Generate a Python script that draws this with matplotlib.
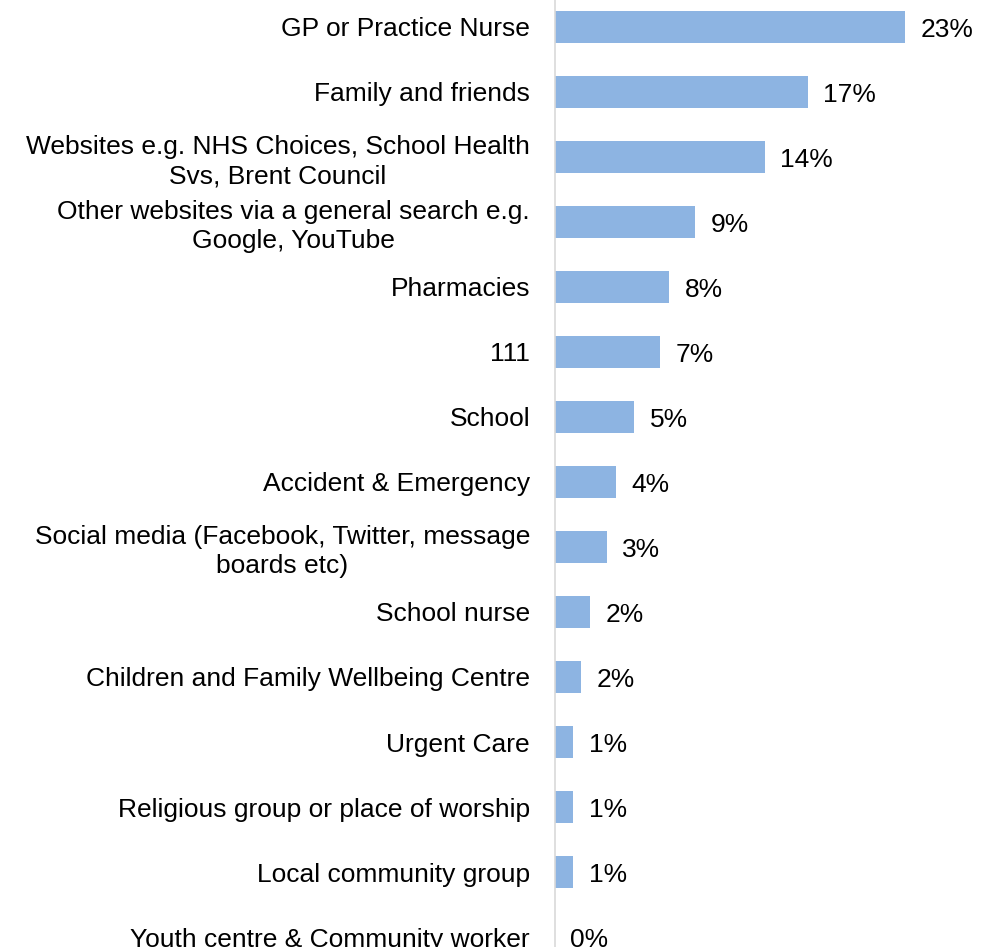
import matplotlib
matplotlib.use("Agg")
import matplotlib.pyplot as plt

# Where people go for health advice (share of responses, %)
sources = [
    "GP or Practice Nurse",
    "Family and friends",
    "Websites e.g. NHS Choices, School Health\nSvs, Brent Council",
    "Other websites via a general search e.g.\nGoogle, YouTube",
    "Pharmacies",
    "111",
    "School",
    "Accident & Emergency",
    "Social media (Facebook, Twitter, message\nboards etc)",
    "School nurse",
    "Children and Family Wellbeing Centre",
    "Urgent Care",
    "Religious group or place of worship",
    "Local community group",
    "Youth centre & Community worker",
]
shares = [23.0, 16.6, 13.8, 9.2, 7.5, 6.9, 5.2, 4.0, 3.4, 2.3, 1.7, 1.2, 1.2, 1.2, 0.0]

plt.rcParams["font.family"] = ["Liberation Sans", "DejaVu Sans"]
FS = 19

fig = plt.figure(figsize=(9.94, 9.47), dpi=100)
ax = fig.add_axes([0.5584, -0.02376, 0.4416, 1.02957])

pos = list(range(len(sources)))
ax.barh(pos, shares, height=0.48, color="#8db4e2")

for y, v in zip(pos, shares):
    ax.annotate(f"{v:.0f}%", (v, y), xytext=(11, -2), textcoords="offset points",
                ha="left", va="center", fontsize=FS, color="black")

ax.set_xlim(0, 28.84)
ax.set_ylim(len(sources) - 0.5, -0.5)
ax.set_yticks(pos)
ax.set_yticklabels(sources, fontsize=FS)
for lbl in ax.get_yticklabels():
    lbl.set_multialignment("center")
    lbl.set_linespacing(1.25)
ax.tick_params(axis="y", length=0, pad=18)
ax.set_xticks([])

for side in ("top", "right", "bottom"):
    ax.spines[side].set_visible(False)
ax.spines["left"].set_color("#d9d9d9")
ax.spines["left"].set_linewidth(1.2)

fig.savefig("out.png", dpi=100)
